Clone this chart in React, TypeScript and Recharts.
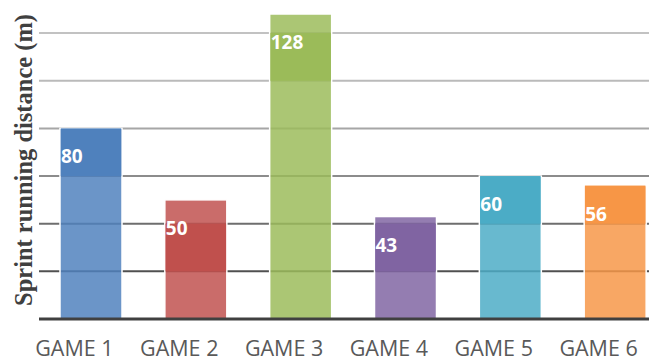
import React from "react";
import {
  BarChart,
  Bar,
  XAxis,
  YAxis,
  CartesianGrid,
  Cell,
  LabelList,
} from "recharts";

// Chart data
const games = ["GAME 1", "GAME 2", "GAME 3", "GAME 4", "GAME 5", "GAME 6"];
const distances = [80, 50, 128, 43, 60, 56];
const yTicks = [0, 20, 40, 60, 80, 100, 120];
const yLabel = "Sprint running distance (m)";

// Styles
const barColors = ["#4f81bd", "#c0504d", "#9bbb59", "#8064a2", "#4bacc6", "#f79646"];
// grid colours, bottom line first
const gridColors = ["#404040", "#505050", "#6e6e6e", "#8c8c8c", "#a6a6a6", "#bababa", "#c2c2c2"];
const LABEL_DY = 35;
const STEP = 20;
const TICK_SHIFT = -17;

const data = games.map((game, i) => ({ game, distance: distances[i] }));

// Bar with a darker band behind the value label
const BandBar = (props: any) => {
  const { x, y, width, height, fill, payload } = props;
  if (!height || !payload) return null;
  const ppu = height / payload.distance;
  const bottom = y + height;
  const labelMid = y + LABEL_DY - 7;
  const k = Math.floor((bottom - labelMid) / (STEP * ppu));
  const bandBottom = bottom - k * STEP * ppu;
  const bandTop = Math.max(y, bottom - (k + 1) * STEP * ppu);
  return (
    <g>
      <rect
        x={x}
        y={y}
        width={width}
        height={height}
        fill={fill}
        fillOpacity={0.84}
        stroke="#ffffff"
        strokeWidth={1.5}
      />
      <rect x={x + 0.75} y={bandTop} width={width - 1.5} height={bandBottom - bandTop} fill={fill} />
    </g>
  );
};

const ValueLabel = (props: any) => {
  const { x, y, value } = props;
  return (
    <text
      x={x + 1}
      y={y + LABEL_DY}
      fill="#ffffff"
      fontFamily="'Open Sans', sans-serif"
      fontWeight="bold"
      fontSize={19}
      textAnchor="start"
    >
      {value}
    </text>
  );
};

const GameTick = (props: any) => {
  const { x, payload } = props;
  return (
    <text
      x={x + TICK_SHIFT}
      y={356}
      fill="#595959"
      fontFamily="'Open Sans', sans-serif"
      fontSize={21.5}
      textAnchor="middle"
    >
      {payload.value}
    </text>
  );
};

const NoTick = () => <g />;

const AxisTitle = () => (
  <text
    x={23}
    y={160}
    transform="rotate(-90, 23, 160)"
    textAnchor="middle"
    dominantBaseline="central"
    fill="#404040"
    fontFamily="'Liberation Serif', serif"
    fontWeight="bold"
    fontSize={24.5}
  >
    {yLabel}
  </text>
);

const App: React.FC = () => {
  return (
    <div
      style={{
        marginTop: -8,
        marginLeft: -8,
        width: 657,
        height: 360,
        overflow: "hidden",
        background: "#fff",
      }}
    >
      <BarChart
        width={668}
        height={360}
        data={data}
        margin={{ top: 14, right: 0, bottom: 0, left: 0 }}
        barSize={62}
      >
        <CartesianGrid
          vertical={false}
          horizontal={(p: any) => (
            <line
              key={p.key ?? p.index}
              x1={p.x1}
              x2={p.x2}
              y1={p.y1}
              y2={p.y2}
              stroke={gridColors[p.index] ?? "none"}
              strokeWidth={2}
            />
          )}
        />
        <XAxis
          dataKey="game"
          height={41}
          axisLine={{ stroke: "#404040", strokeWidth: 3 }}
          tickLine={false}
          tick={<GameTick />}
          interval={0}
        />
        <YAxis
          width={39}
          domain={[0, 128]}
          ticks={yTicks}
          tick={<NoTick />}
          tickLine={false}
          axisLine={false}
          label={<AxisTitle />}
        />
        <Bar dataKey="distance" shape={<BandBar />} isAnimationActive={false}>
          {data.map((d, i) => (
            <Cell key={d.game} fill={barColors[i]} />
          ))}
          <LabelList dataKey="distance" content={<ValueLabel />} />
        </Bar>
      </BarChart>
    </div>
  );
};

export default App;
